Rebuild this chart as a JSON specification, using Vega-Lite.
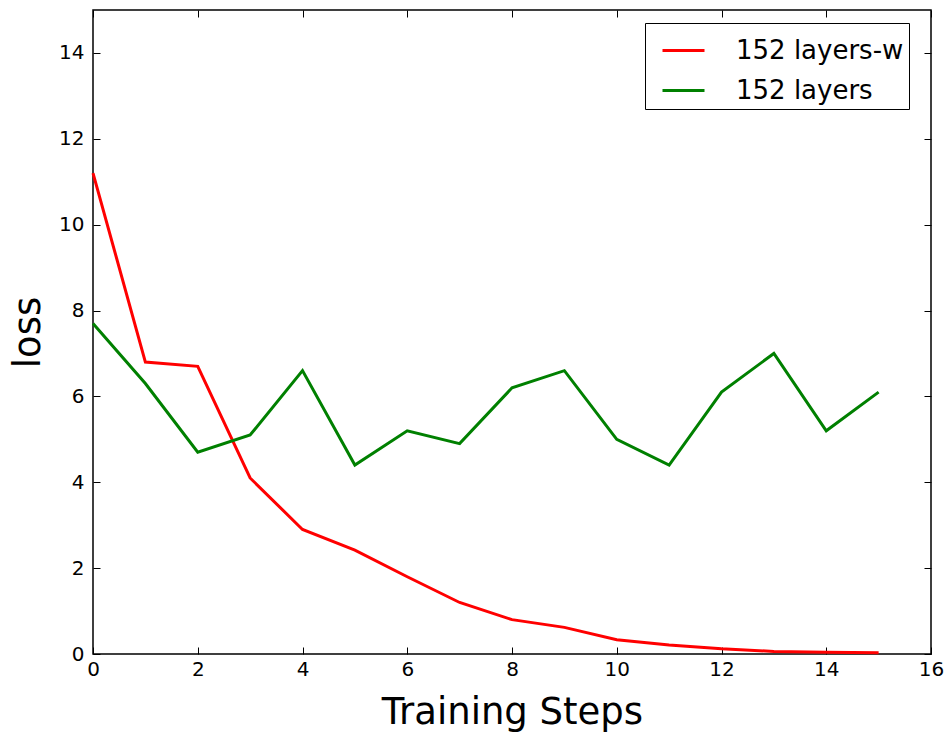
{
  "$schema": "https://vega.github.io/schema/vega-lite/v6.json",
  "width": 838,
  "height": 644,
  "autosize": "none",
  "padding": {"left": 93, "top": 10, "right": 15, "bottom": 80},
  "background": "white",
  "config": {
    "font": "DejaVu Sans",
    "view": {"stroke": "black", "strokeWidth": 1.5},
    "axis": {
      "grid": false,
      "domain": false,
      "tickColor": "black",
      "tickSize": -7,
      "tickWidth": 1,
      "labelColor": "black",
      "labelFont": "DejaVu Sans",
      "labelFontSize": 20,
      "titleFont": "DejaVu Sans",
      "titleFontSize": 37,
      "titleFontWeight": "normal",
      "titleColor": "black"
    }
  },
  "data": {
    "values": [
      {"step": 0, "loss": 11.2, "series": "152 layers-w"},
      {"step": 1, "loss": 6.8, "series": "152 layers-w"},
      {"step": 2, "loss": 6.7, "series": "152 layers-w"},
      {"step": 3, "loss": 4.1, "series": "152 layers-w"},
      {"step": 4, "loss": 2.9, "series": "152 layers-w"},
      {"step": 5, "loss": 2.42, "series": "152 layers-w"},
      {"step": 6, "loss": 1.8, "series": "152 layers-w"},
      {"step": 7, "loss": 1.2, "series": "152 layers-w"},
      {"step": 8, "loss": 0.8, "series": "152 layers-w"},
      {"step": 9, "loss": 0.62, "series": "152 layers-w"},
      {"step": 10, "loss": 0.33, "series": "152 layers-w"},
      {"step": 11, "loss": 0.21, "series": "152 layers-w"},
      {"step": 12, "loss": 0.12, "series": "152 layers-w"},
      {"step": 13, "loss": 0.06, "series": "152 layers-w"},
      {"step": 14, "loss": 0.04, "series": "152 layers-w"},
      {"step": 15, "loss": 0.03, "series": "152 layers-w"},
      {"step": 0, "loss": 7.7, "series": "152 layers"},
      {"step": 1, "loss": 6.3, "series": "152 layers"},
      {"step": 2, "loss": 4.7, "series": "152 layers"},
      {"step": 3, "loss": 5.1, "series": "152 layers"},
      {"step": 4, "loss": 6.6, "series": "152 layers"},
      {"step": 5, "loss": 4.4, "series": "152 layers"},
      {"step": 6, "loss": 5.2, "series": "152 layers"},
      {"step": 7, "loss": 4.9, "series": "152 layers"},
      {"step": 8, "loss": 6.2, "series": "152 layers"},
      {"step": 9, "loss": 6.6, "series": "152 layers"},
      {"step": 10, "loss": 5.0, "series": "152 layers"},
      {"step": 11, "loss": 4.4, "series": "152 layers"},
      {"step": 12, "loss": 6.1, "series": "152 layers"},
      {"step": 13, "loss": 7.0, "series": "152 layers"},
      {"step": 14, "loss": 5.2, "series": "152 layers"},
      {"step": 15, "loss": 6.1, "series": "152 layers"}
    ]
  },
  "layer": [
    {
      "mark": {"type": "line", "strokeWidth": 3},
      "encoding": {
        "x": {
          "field": "step", "type": "quantitative",
          "scale": {"domain": [0, 16], "nice": false, "zero": false},
          "axis": {"values": [0, 2, 4, 6, 8, 10, 12, 14, 16], "title": "Training Steps", "labelPadding": 12, "titlePadding": 15, "labelFlush": false}
        },
        "y": {
          "field": "loss", "type": "quantitative",
          "scale": {"domain": [0, 15], "nice": false},
          "axis": {"values": [0, 2, 4, 6, 8, 10, 12, 14], "title": "loss", "labelPadding": 16, "titlePadding": 11}
        },
        "color": {
          "field": "series", "type": "nominal",
          "scale": {"domain": ["152 layers-w", "152 layers"], "range": ["#ff0000", "#008000"]},
          "legend": {
            "title": null,
            "orient": "none",
            "legendX": 552,
            "legendY": 13,
            "direction": "vertical",
            "strokeColor": "black",
            "fillColor": "white",
            "padding": 5,
            "cornerRadius": 0,
            "symbolType": "stroke",
            "symbolSize": 1764,
            "symbolStrokeWidth": 3,
            "symbolOffset": 11,
            "labelOffset": 30,
            "labelFontSize": 26,
            "labelFont": "DejaVu Sans",
            "labelColor": "black",
            "rowPadding": 4,
            "labelLimit": 400
          }
        }
      }
    },
    {
      "mark": {"type": "line", "strokeOpacity": 0},
      "encoding": {
        "x": {
          "field": "step", "type": "quantitative",
          "axis": {"orient": "top", "values": [0, 2, 4, 6, 8, 10, 12, 14, 16], "labels": false, "title": null}
        },
        "y": {
          "field": "loss", "type": "quantitative",
          "axis": {"orient": "right", "values": [0, 2, 4, 6, 8, 10, 12, 14], "labels": false, "title": null}
        },
        "detail": {"field": "series"}
      }
    }
  ],
  "resolve": {"axis": {"x": "independent", "y": "independent"}}
}
